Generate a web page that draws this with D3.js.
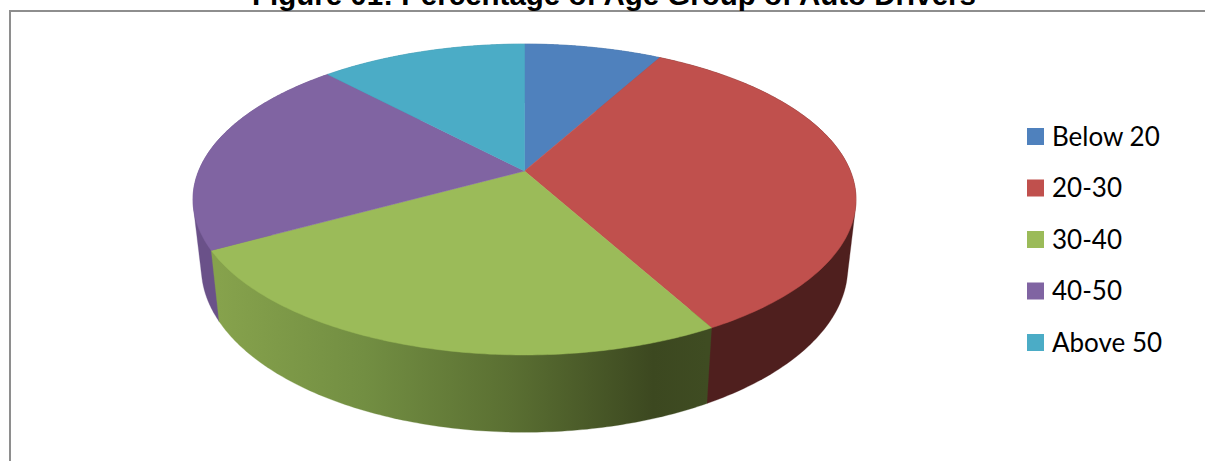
<!DOCTYPE html>
<html>
<head>
<meta charset="utf-8">
<script src="https://cdn.jsdelivr.net/npm/d3@7/dist/d3.min.js"></script>
<style>
html,body{margin:0;padding:0;background:#fff;overflow:hidden}
svg{display:block}
</style>
</head>
<body>
<svg id="chart" width="1205" height="461"></svg>
<script>
const titleText = "Figure 01: Percentage of Age Group of Auto Drivers";
const categories = ["Below 20", "20-30", "30-40", "40-50", "Above 50"];
const values = [8, 34, 25, 21, 12];
const topColors = ["#4F81BD", "#C0504D", "#9BBB59", "#8064A2", "#4BACC6"];
const wallColors = ["#3A5F8C", "#4F1F1E", "url(#greenWall)", "#6A5189", "#378197"];

const svg = d3.select("#chart");

// Perspective projection of the unit pie disc on to the page
const cx = 524.5, apexY = 171, persp = -0.1833, bY = 118.9, aX = 325.9;
const project = (angle) => {
  const u = Math.sin(angle), v = -Math.cos(angle);
  const w = 1 + persp * v;
  return [cx + aX * u / w, (apexY + bY * v) / w];
};
// The lower rim of the wall, seen a little narrower and a little taller
const lower = ([x, y]) => [cx + (x - cx) * 0.975, y * 1.06 + 56];

const arcs = d3.pie().sort(null).value(d => d)(values);
const line = d3.line();
const rim = (a) => d3.range(0, 121).map(i => project(a.startAngle + (a.endAngle - a.startAngle) * i / 120));

const grad = svg.append("defs").append("linearGradient")
  .attr("id", "greenWall").attr("gradientUnits", "userSpaceOnUse")
  .attr("x1", 219).attr("x2", 707).attr("y1", 0).attr("y2", 0);
[[0, "#86A24C"], [0.3, "#728E42"], [0.6, "#5A6F32"], [0.89, "#3C4820"], [1, "#3F4C22"]]
  .forEach(([o, c]) => grad.append("stop").attr("offset", o).attr("stop-color", c));

// frame
svg.append("path").attr("d", "M1205,11H10V461")
  .attr("fill", "none").attr("stroke", "#8E8E8E").attr("stroke-width", 2);

// walls: the hull of both rims; the front slice goes last, and what lies above
// the front rim is covered by the top face
svg.append("g").selectAll("path").data(d3.sort(arcs, a => a.index === 2)).join("path")
  .attr("d", a => { const r = rim(a); return line(d3.polygonHull(r.concat(r.map(lower)))) + "Z"; })
  .attr("fill", a => wallColors[a.index])
  .attr("stroke", a => wallColors[a.index]).attr("stroke-width", 0.3);

svg.append("g").selectAll("path").data(arcs).join("path")
  .attr("d", a => line([[cx, apexY]].concat(rim(a))) + "Z")
  .attr("fill", a => topColors[a.index])
  .attr("stroke", a => topColors[a.index]).attr("stroke-width", 0.5);

// title
svg.append("text").text(titleText)
  .attr("x", 614).attr("y", 4.5).attr("text-anchor", "middle")
  .attr("font-family", "'Liberation Sans', Arial, sans-serif")
  .attr("font-weight", "bold").attr("font-size", 29.5).attr("fill", "#000");

// legend
const legendY = d3.scalePoint().domain(categories).range([136.5, 342.5]);
const legend = svg.append("g").selectAll("g").data(categories).join("g")
  .attr("transform", d => `translate(0,${legendY(d)})`);
legend.append("rect").attr("x", 1027).attr("y", -8.5).attr("width", 17).attr("height", 17)
  .attr("fill", (d, i) => topColors[i]);
legend.append("text").text(d => d).attr("x", 1052).attr("y", 9)
  .attr("font-family", "Lato, 'Open Sans', sans-serif").attr("font-size", 26).attr("fill", "#000");
</script>
</body>
</html>
